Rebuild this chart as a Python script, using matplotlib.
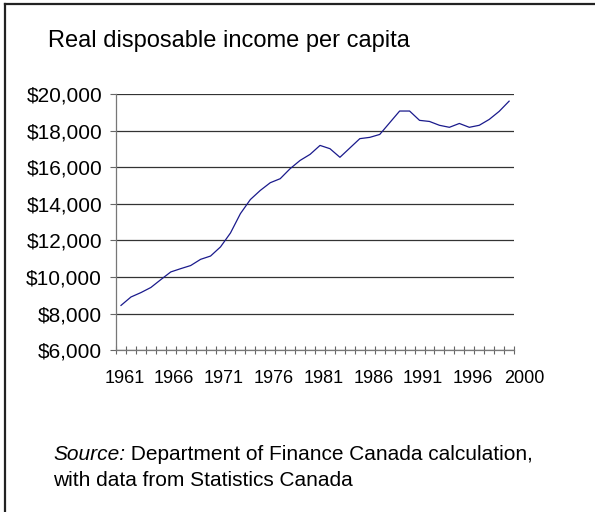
import matplotlib
matplotlib.use("Agg")
import matplotlib.pyplot as plt
from matplotlib.lines import Line2D
from matplotlib.ticker import FuncFormatter, FixedLocator
import matplotlib.transforms as mtransforms

plt.rcParams['font.family'] = ['Liberation Sans', 'DejaVu Sans']

# real disposable income per capita, constant dollars
years = list(range(1961, 2001))
income = [8450, 8910, 9150, 9430, 9860, 10280, 10460, 10630, 10970, 11150,
          11650, 12410, 13470, 14240, 14740, 15160, 15380, 15930, 16380, 16710,
          17200, 17020, 16550, 17060, 17570, 17640, 17800, 18440, 19080, 19080,
          18570, 18510, 18300, 18190, 18400, 18190, 18300, 18620, 19060, 19620]

year_labels = [1961, 1966, 1971, 1976, 1981, 1986, 1991, 1996, 2000]
y_ticks = [6000, 8000, 10000, 12000, 14000, 16000, 18000, 20000]

fig = plt.figure(figsize=(5.95, 5.12), dpi=100)
ax = fig.add_axes([0.195, 0.316, 0.669, 0.5])

ax.plot(years, income, color='#1a1a8c', linewidth=0.9)

ax.set_xlim(1960.5, 2000.5)
ax.set_ylim(6000, 20000)

# horizontal gridlines
ax.set_yticks(y_ticks)
ax.yaxis.grid(True, color='#333333', linewidth=0.9)
ax.set_axisbelow(True)
ax.yaxis.set_major_formatter(FuncFormatter(lambda v, p: '${:,.0f}'.format(v)))
ax.tick_params(axis='y', direction='out', length=4, width=0.8, color='#666666',
               pad=6, labelsize=15)

# tick marks between the years, labels every five years
ax.xaxis.set_minor_locator(FixedLocator([y - 0.5 for y in years] + [2000.5]))
ax.set_xticks(year_labels)
ax.set_xticklabels([str(y) for y in year_labels])
ax.tick_params(axis='x', which='major', length=0, pad=14, labelsize=13)
ax.tick_params(axis='x', which='minor', direction='inout', length=6, width=0.8,
               color='#666666')
labels = ax.get_xticklabels()
for lab in labels[:-1]:
    lab.set_transform(lab.get_transform() +
                      mtransforms.ScaledTranslation(2.5 / 72, 0, fig.dpi_scale_trans))
labels[-1].set_transform(labels[-1].get_transform() +
                         mtransforms.ScaledTranslation(11 / 72, 0, fig.dpi_scale_trans))

for side in ['top', 'right']:
    ax.spines[side].set_visible(False)
for side in ['left', 'bottom']:
    ax.spines[side].set_color('#777777')
    ax.spines[side].set_linewidth(0.9)

fig.text(48 / 595, 1 - 47 / 512, 'Real disposable income per capita',
         fontsize=17, va='baseline', ha='left')

src = fig.text(53 / 595, 1 - 460 / 512, 'Source:', fontsize=15, style='italic',
               va='baseline', ha='left')
ax.annotate(' Department of Finance Canada calculation,', xy=(1, 0),
            xycoords=src, fontsize=15, va='bottom', ha='left',
            annotation_clip=False)
fig.text(53 / 595, 1 - 486 / 512, 'with data from Statistics Canada',
         fontsize=15, va='baseline', ha='left')

# outer frame
fig.add_artist(Line2D([5 / 595, 5 / 595], [0, 1 - 4 / 512], color='#222222',
                      linewidth=1.6, transform=fig.transFigure))
fig.add_artist(Line2D([5 / 595, 1], [1 - 4 / 512, 1 - 4 / 512], color='#222222',
                      linewidth=1.6, transform=fig.transFigure))

fig.savefig('out.png', dpi=100)
